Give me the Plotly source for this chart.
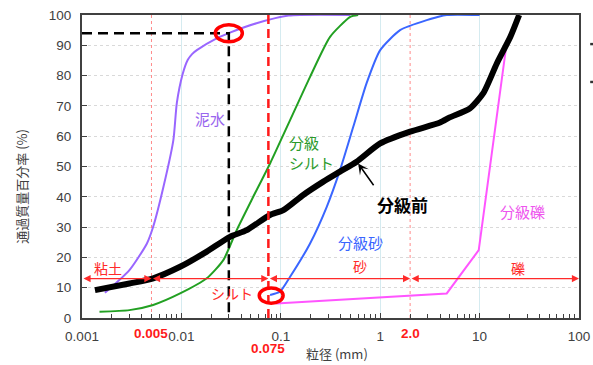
import math
import plotly.graph_objects as go

# ---------------- data ----------------
mud_x = [0.0017, 0.003, 0.0045, 0.0052, 0.0066, 0.0083, 0.009, 0.0103, 0.0116, 0.0128, 0.0143, 0.0226, 0.0308, 0.057, 0.12, 0.5]
mud_y = [8.3, 15.8, 24.6, 30.1, 43.3, 58.7, 71, 80.5, 85.2, 87.1, 88.4, 92.3, 94.2, 97.3, 99.8, 100]

silt_x = [0.0015, 0.003, 0.0052, 0.0097, 0.018, 0.0264, 0.036, 0.0528, 0.078, 0.124, 0.197, 0.313, 0.5, 0.6]
silt_y = [2.1, 2.6, 4.3, 8.1, 13.1, 19.1, 29, 40, 51, 65.3, 79.6, 92.8, 99.4, 100]

sand_x = [0.078, 0.098, 0.124, 0.197, 0.29, 0.394, 0.536, 0.73, 1.0, 1.585, 2.94, 4.67, 10]
sand_y = [7.6, 8.7, 13.6, 24.6, 36.7, 48.8, 63.1, 77.5, 88.4, 95, 98.3, 100, 100]

gravel_x = [0.09, 2.0, 4.67, 9.8, 18.7, 25]
gravel_y = [4.8, 7.4, 8.1, 22.4, 90.6, 100]

pre_x = [0.00135, 0.003, 0.0052, 0.0097, 0.018, 0.0308, 0.0454, 0.0778, 0.106, 0.168, 0.268, 0.394, 0.58, 1.0, 2.0, 4.0, 5.0, 8.0, 10.9, 14.9, 20.4, 25]
pre_y = [9.2, 11.4, 13.1, 16.9, 21.9, 26.8, 29, 34, 35.6, 40.6, 45, 48.3, 51.6, 57.6, 61.5, 64.5, 66.2, 69.2, 74.2, 84, 92.8, 100]

x_tick_vals = [0.001, 0.01, 0.1, 1, 10, 100]
x_tick_text = ["0.001", "0.01", "0.1", "1", "10", "100"]
y_tick_vals = [0, 10, 20, 30, 40, 50, 60, 70, 80, 90, 100]

boundaries = [0.001, 0.005, 0.075, 2.0, 100]
boundary_labels = ["0.005", "0.075", "2.0"]
class_names = ["粘土", "シルト", "砂", "礫"]
class_label_x = [0.00184, 0.0321, 0.627, 24.5]
class_label_y = [16.6, 8.1, 17.0, 16.6]
class_line_y = 13

read_point = (0.03, 94)      # 泥水 ~94% passing at 0.03 mm
start_point = (0.08, 7.4)    # start of 分級砂

# ---------------- figure ----------------
JP = "Noto Sans CJK JP, Liberation Sans, sans-serif"
NUM = "Liberation Sans, Arial, sans-serif"
RED = "#ff2a2a"

fig = go.Figure()

for b in [boundaries[1], boundaries[3]]:
    fig.add_trace(go.Scatter(x=[b, b], y=[0, 100], mode="lines",
                             line=dict(color="#ff8a8a", width=1, dash="dot"),
                             hoverinfo="skip", showlegend=False))

fig.add_trace(go.Scatter(x=mud_x, y=mud_y, mode="lines", line=dict(color="#9966ff", width=2, shape="spline", smoothing=0.6), showlegend=False))
fig.add_trace(go.Scatter(x=silt_x, y=silt_y, mode="lines", line=dict(color="#22a022", width=2, shape="spline", smoothing=0.6), showlegend=False))
fig.add_trace(go.Scatter(x=sand_x, y=sand_y, mode="lines", line=dict(color="#3a66ff", width=2, shape="spline", smoothing=0.6), showlegend=False))
fig.add_trace(go.Scatter(x=gravel_x, y=gravel_y, mode="lines", line=dict(color="#ff55ff", width=2), showlegend=False))
fig.add_trace(go.Scatter(x=pre_x, y=pre_y, mode="lines", line=dict(color="#000000", width=6, shape="spline", smoothing=0.6), showlegend=False))

fig.add_trace(go.Scatter(x=[x_tick_vals[0], read_point[0], read_point[0]], y=[read_point[1], read_point[1], 0],
                         mode="lines", line=dict(color="#000000", width=2.5, dash="10px,6px"),
                         hoverinfo="skip", showlegend=False))
fig.add_trace(go.Scatter(x=[boundaries[2], boundaries[2]], y=[0, 100], mode="lines",
                         line=dict(color="#ff1a1a", width=2.5, dash="9px,5px"),
                         hoverinfo="skip", showlegend=False))

annotations = []
for i in range(4):
    annotations.append(dict(x=math.log10(boundaries[i + 1]), y=class_line_y,
                            ax=math.log10(boundaries[i]), ay=class_line_y,
                            xref="x", yref="y", axref="x", ayref="y",
                            text="", showarrow=True, arrowhead=2, arrowside="end+start",
                            arrowsize=1.1, arrowwidth=1.3, arrowcolor=RED,
                            standoff=0, startstandoff=0))
    annotations.append(dict(x=math.log10(class_label_x[i]), y=class_label_y[i], xref="x", yref="y",
                            text=class_names[i], showarrow=False,
                            font=dict(family=JP, size=14, color=RED)))

for val, txt, py in [(boundaries[1], boundary_labels[0], -0.05), (boundaries[2], boundary_labels[1], -0.102), (boundaries[3], boundary_labels[2], -0.05)]:
    annotations.append(dict(x=math.log10(val), y=py, xref="x", yref="paper", text="<b>%s</b>" % txt,
                            showarrow=False, font=dict(family=NUM, size=13.5, color="#ff1a1a"),
                            yanchor="middle"))

annotations += [
    dict(x=math.log10(0.0194), y=66, xref="x", yref="y", text="泥水", showarrow=False,
         font=dict(family=JP, size=15, color="#9966ee")),
    dict(x=math.log10(0.115), y=54.5, xref="x", yref="y", text="分級<br>シルト", showarrow=False,
         xanchor="left", align="left", font=dict(family=JP, size=15, color="#2a9a2a")),
    dict(x=math.log10(1.69), y=37.3, xref="x", yref="y", text="<b>分級前</b>", showarrow=False,
         font=dict(family=JP, size=17, color="#000000")),
    dict(x=math.log10(0.627), y=24.8, xref="x", yref="y", text="分級砂", showarrow=False,
         font=dict(family=JP, size=15, color="#3a66ff")),
    dict(x=math.log10(27.3), y=35, xref="x", yref="y", text="分級礫", showarrow=False,
         font=dict(family=JP, size=15, color="#ee55ee")),
    dict(x=math.log10(0.6), y=51.0, ax=math.log10(0.88), ay=43.3, xref="x", yref="y", axref="x", ayref="y",
         text="", showarrow=True, arrowhead=3, arrowsize=1.2, arrowwidth=1.5, arrowcolor="#000000"),
    dict(x=0.5125, y=-0.116, xref="paper", yref="paper", text="粒径 (mm)", showarrow=False,
         yanchor="middle", font=dict(family=JP, size=13, color="#404040")),
    dict(x=-0.121, y=0.436, xref="paper", yref="paper", text="通過質量百分率 (%)", showarrow=False,
         textangle=-90, xanchor="center", yanchor="middle", font=dict(family=JP, size=13, color="#404040")),
]

def ellipse(center, half_dec, half_y):
    cx, cy = center
    return dict(type="circle", xref="x", yref="y",
                x0=cx * 10 ** (-half_dec), x1=cx * 10 ** half_dec,
                y0=cy - half_y, y1=cy + half_y,
                line=dict(color="#ff0000", width=3.5))

shapes = [
    ellipse(read_point, 0.136, 2.8),
    ellipse(start_point, 0.12, 2.5),
    dict(type="rect", xref="paper", yref="paper", x0=1.0225, x1=1.03, y0=0.900, y1=0.908,
         line=dict(width=0), fillcolor="#333333"),
    dict(type="rect", xref="paper", yref="paper", x0=1.0225, x1=1.03, y0=0.775, y1=0.783,
         line=dict(width=0), fillcolor="#333333"),
]

minor_vals = [k * 10 ** e for e in range(-3, 2) for k in range(2, 10)]

fig.update_layout(
    width=593, height=365,
    margin=dict(l=82, r=14, t=15, b=47),
    paper_bgcolor="white", plot_bgcolor="white",
    annotations=annotations, shapes=shapes,
    xaxis=dict(type="log", range=[-3, 2], tickmode="array", tickvals=x_tick_vals, ticktext=x_tick_text,
               ticks="inside", ticklen=5, tickcolor="#404040",
               showgrid=True, gridcolor="#d5ebf0", gridwidth=1,
               showline=True, linecolor="#404040", linewidth=2, mirror=True,
               tickfont=dict(family=NUM, size=13.5, color="#404040"), ticklabelstandoff=5,
               ticklabeloverflow="allow",
               minor=dict(tickmode="array", tickvals=minor_vals, ticks="inside", ticklen=4,
                          tickcolor="#404040", showgrid=False),
               zeroline=False, automargin=False),
    yaxis=dict(range=[0, 100], tickmode="array", tickvals=y_tick_vals,
               ticks="inside", ticklen=5, tickcolor="#404040",
               showgrid=True, gridcolor="#d9d9d9", griddash="dot", gridwidth=1,
               showline=True, linecolor="#404040", linewidth=2, mirror=True,
               tickfont=dict(family=NUM, size=13.5, color="#404040"), ticklabelstandoff=6,
               ticklabeloverflow="allow",
               zeroline=False, automargin=False),
)

fig.write_html("out.html", config={"displayModeBar": False},
               post_script="document.body.style.margin='0';document.body.style.overflow='hidden';")
